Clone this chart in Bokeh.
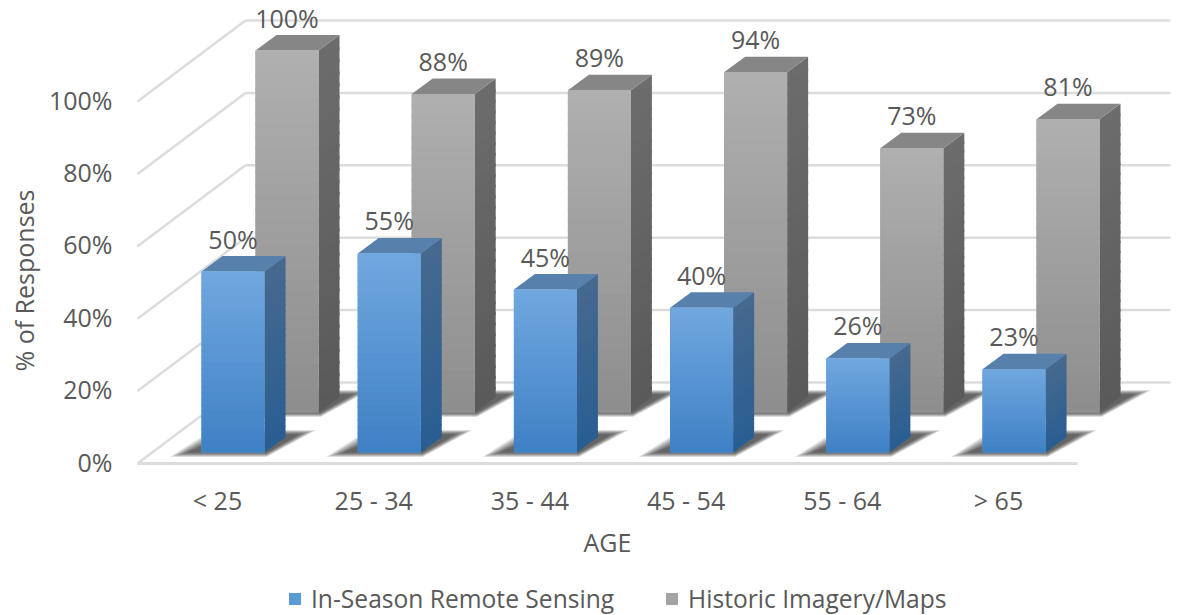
from bokeh.plotting import figure
from bokeh.layouts import column
from bokeh.embed import file_html
from bokeh.resources import INLINE
from bokeh.models import Range1d, FixedTicker, PrintfTickFormatter, Legend, LegendItem
from bokeh.core.properties import value

# ---- data ----
ages = ["< 25", "25 - 34", "35 - 44", "45 - 54", "55 - 64", "> 65"]
in_season = [50, 55, 45, 40, 26, 23]
historic = [100, 88, 89, 94, 73, 81]
y_ticks = [0, 20, 40, 60, 80, 100]

FONT = "Open Sans"
TXT = "#595959"
GRID = "#DCDCDC"

# ---- scales: pixels per unit ----
PX_X = 156.2
PX_Y = 3.62
FRAME_L, FRAME_R, FRAME_T, FRAME_B = 125, 1171, 8, 552
X0_PX, Y0_PX = 217, 461
MAIN_H = 579
LEGEND_H = 36


def ux(px):
    return px / PX_X


def uy(px):
    return px / PX_Y


p = figure(
    width=1179, height=MAIN_H,
    frame_width=FRAME_R - FRAME_L, frame_height=FRAME_B - FRAME_T,
    x_range=Range1d((FRAME_L - X0_PX) / PX_X, (FRAME_R - X0_PX) / PX_X),
    y_range=Range1d((Y0_PX - FRAME_B) / PX_Y, (Y0_PX - FRAME_T) / PX_Y),
    output_backend="svg", toolbar_location=None,
    min_border_left=FRAME_L, min_border_right=8, min_border_top=FRAME_T, min_border_bottom=MAIN_H - FRAME_B,
)
p.outline_line_color = None
p.grid.visible = False
p.background_fill_color = "white"

# ---- axes ----
ya = p.yaxis[0]
ya.ticker = FixedTicker(ticks=y_ticks)
ya.formatter = PrintfTickFormatter(format="%d%%")
ya.axis_line_color = None
ya.major_tick_line_color = None
ya.minor_tick_line_color = None
ya.major_tick_out = 0
ya.major_label_text_font = FONT
ya.major_label_text_font_size = "25px"
ya.major_label_text_color = TXT
ya.major_label_standoff = 13
ya.axis_label = "% of Responses"
ya.axis_label_text_font = FONT
ya.axis_label_text_font_style = "normal"
ya.axis_label_text_font_size = "25px"
ya.axis_label_text_color = TXT
ya.axis_label_standoff = 5

xa = p.xaxis[0]
xa.ticker = FixedTicker(ticks=list(range(len(ages))))
xa.major_label_overrides = {i: a for i, a in enumerate(ages)}
xa.axis_line_color = None
xa.major_tick_line_color = None
xa.minor_tick_line_color = None
xa.major_tick_out = 0
xa.major_label_text_font = FONT
xa.major_label_text_font_size = "25px"
xa.major_label_text_color = TXT
xa.major_label_standoff = -70

# ---- walls and floor of the 3D box ----
front_y = -uy(2)
left_x = ux(137 - X0_PX)
right_front_x = ux(1077 - X0_PX)
back_dx = ux(108)
back_dy = uy(81)
right_back_x = ux(1170 - X0_PX)
for t in y_ticks:
    p.line([left_x, left_x + back_dx], [t + front_y, t + front_y + back_dy],
           line_color=GRID, line_width=2.5)
    p.line([left_x + back_dx, right_back_x], [t + front_y + back_dy] * 2,
           line_color=GRID, line_width=2.5)
p.line([left_x, right_front_x], [front_y, front_y], line_color=GRID, line_width=3)

# x axis title, placed off the frame centre as in the reference
p.text([ux(607 - X0_PX)], [(Y0_PX - 541) / PX_Y], text=["AGE"],
       text_align="center", text_baseline="middle",
       text_font=value(FONT), text_font_size="25px", text_color=TXT)


def mix(a, b, f):
    ca = [int(a[i:i + 2], 16) for i in (1, 3, 5)]
    cb = [int(b[i:i + 2], 16) for i in (1, 3, 5)]
    return "#%02x%02x%02x" % tuple(round(x + (y - x) * f) for x, y in zip(ca, cb))


BAR_W = ux(63)
DEPTH_X = ux(21)
DEPTH_Y = uy(15.5)
BANDS = 30


def draw_shadows(vals, offset_px, base_px):
    base = (Y0_PX - base_px) / PX_Y
    xs, ys = [], []
    for i in range(len(vals)):
        L = i + ux(offset_px)
        R = L + BAR_W
        for e in range(14):
            g = 10 - e * 1.4
            xs.append([L + ux(-22 - g), R + ux(2), R + ux(42 + g), L + ux(20 - g)])
            ys.append([base - uy(2 + g * 0.25), base - uy(2 + g * 0.25),
                       base + uy(20 + g * 0.25), base + uy(20 + g * 0.25)])
    p.patches(xs, ys, fill_color="#202020", fill_alpha=0.075, line_color=None)


def draw_bars(vals, offset_px, base_px, name_cols):
    base = (Y0_PX - base_px) / PX_Y
    lefts = [i + ux(offset_px) for i in range(len(vals))]
    rights = [l + BAR_W for l in lefts]
    tops = [base + v for v in vals]
    bases = [base] * len(vals)

    # side faces
    sx, sy, sc = [], [], []
    for l, r, t in zip(lefts, rights, tops):
        for k in range(BANDS):
            a = t - (t - base) * k / BANDS
            b = t - (t - base) * (k + 1.25) / BANDS
            b = max(b, base)
            sx.append([r, r + DEPTH_X, r + DEPTH_X, r])
            sy.append([a, a + DEPTH_Y, b + DEPTH_Y, b])
            sc.append(mix(name_cols["side_top"], name_cols["side_bot"], k / (BANDS - 1)))
    p.patches(sx, sy, fill_color=sc, line_color=None)

    # top faces
    p.patches([[l, l + DEPTH_X, r + DEPTH_X, r] for l, r in zip(lefts, rights)],
              [[t, t + DEPTH_Y, t + DEPTH_Y, t] for t in tops],
              fill_color=name_cols["top"], line_color=None)

    # front faces
    p.quad(left=lefts, right=rights, bottom=bases, top=tops,
           fill_color=name_cols["mid"], line_color=None)
    ql, qr, qt, qb, qc = [], [], [], [], []
    for l, r, t in zip(lefts, rights, tops):
        for k in range(BANDS):
            a = t - (t - base) * k / BANDS
            b = max(t - (t - base) * (k + 1.25) / BANDS, base)
            ql.append(l); qr.append(r); qt.append(a); qb.append(b)
            qc.append(mix(name_cols["front_top"], name_cols["front_bot"], k / (BANDS - 1)))
    p.quad(left=ql, right=qr, top=qt, bottom=qb, fill_color=qc, line_color=None)
    return lefts, tops


GRAY = dict(front_top="#AFAFAF", front_bot="#8E8E8E", side_top="#6C6C6C", side_bot="#5A5A5A",
            top="#868686", mid="#A3A3A3")
BLUE = dict(front_top="#70A7DF", front_bot="#3F81C5", side_top="#46698F", side_bot="#295E92",
            top="#5780AC", mid="#5B9BD5")

draw_shadows(historic, 255 - X0_PX, 412)
g_l, g_t = draw_bars(historic, 255 - X0_PX, 412, GRAY)
draw_shadows(in_season, 201 - X0_PX, 452)
b_l, b_t = draw_bars(in_season, 201 - X0_PX, 452, BLUE)

# ---- value labels ----
lab_up = uy(33)
for ls, ts, vals in ((g_l, g_t, historic), (b_l, b_t, in_season)):
    p.text([l + BAR_W / 2 for l in ls], [t + lab_up for t in ts],
           text=[f"{v}%" for v in vals], text_align="center", text_baseline="middle",
           text_font=value(FONT), text_font_size="25px", text_color=TXT)

# ---- legend, in a strip of its own under the chart ----
q = figure(width=1179, height=LEGEND_H, x_range=Range1d(0, 1), y_range=Range1d(0, 1),
           x_axis_type=None, y_axis_type=None, output_backend="svg", toolbar_location=None,
           min_border_left=0, min_border_right=0, min_border_top=0, min_border_bottom=0)
q.outline_line_color = None
q.grid.visible = False
# off-range swatches: they only give the legend its keys
blue_key = q.quad(left=[2], right=[3], top=[3], bottom=[2], fill_color=BLUE["mid"], line_color=None)
gray_key = q.quad(left=[2], right=[3], top=[3], bottom=[2], fill_color=GRAY["mid"], line_color=None)
legend = Legend(
    items=[LegendItem(label="In-Season Remote Sensing", renderers=[blue_key]),
           LegendItem(label="Historic Imagery/Maps", renderers=[gray_key])],
    orientation="horizontal", location=(287 - FRAME_L, 0),
    border_line_color=None, background_fill_alpha=0,
    glyph_width=15, glyph_height=15, label_standoff=9, spacing=50,
    margin=0, padding=0,
    label_text_font=FONT, label_text_font_size="24.6px", label_text_color=TXT,
)
q.add_layout(legend)

page = column(p, q, spacing=0)
open("out.html", "w").write(file_html(page, INLINE))
